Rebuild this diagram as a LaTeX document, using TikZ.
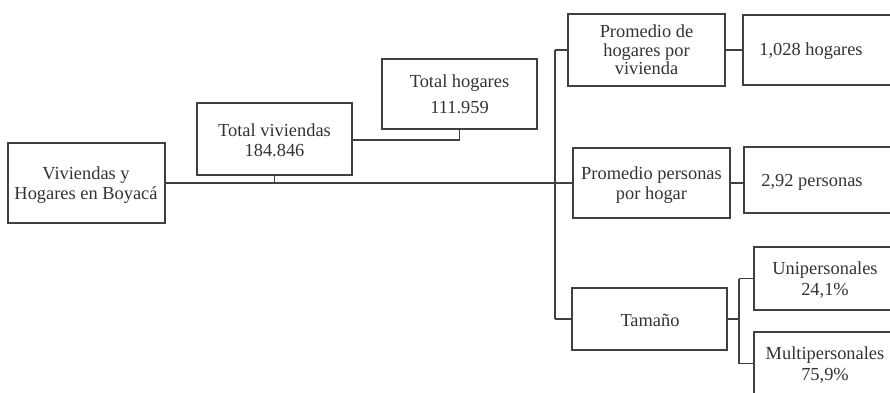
\documentclass[tikz,border=0pt]{standalone}
\usepackage{fontspec}
\setmainfont{Liberation Serif}
\begin{document}
\begin{tikzpicture}[x=1pt,y=-1pt,
  box/.style={draw=black!75,line width=1.8pt,rectangle,inner sep=0pt},
  txt/.style={text=black!80,align=center,inner sep=0pt,font=\fontsize{18.4}{20.5}\selectfont},
  link/.style={draw=black!75,line width=1.8pt}]
\useasboundingbox (0,0) rectangle (890,392);
\clip (0,0) rectangle (890,392);
% left part
\node[box,minimum width=157pt,minimum height=80pt] (root) at (86.5,183) {};
\node[txt] (roott) at (86,185) {Viviendas y\\Hogares en Boyacá};
\node[box,minimum width=155pt,minimum height=72pt] (tv) at (274.5,139) {};
\node[txt] (tvt) at (274.5,140) {Total viviendas\\184.846};
\node[box,minimum width=155pt,minimum height=70pt] (th) at (459.5,94) {};
\node[txt] (tht) at (459.5,94) {Total hogares\\[5pt]111.959};
% middle column
\node[box,minimum width=157pt,minimum height=72pt] (ph) at (646.5,50) {};
\node[txt,font=\fontsize{18.4}{18.5}\selectfont] (pht) at (646.5,50) {Promedio de\\hogares por\\vivienda};
\node[box,minimum width=157pt,minimum height=70pt] (pp) at (651.5,183) {};
\node[txt] (ppt) at (651.5,185) {Promedio personas\\por hogar};
\node[box,minimum width=155pt,minimum height=62pt] (tam) at (649.5,319) {};
\node[txt] (tamt) at (650,320) {Tamaño};
% right column (cut by the right edge)
\node[box,minimum width=180pt,minimum height=70pt,anchor=west] (h1) at (742,50) {};
\node[txt] (h1t) at (811,51) {1,028 hogares};
\node[box,minimum width=180pt,minimum height=66pt,anchor=west] (p2) at (743,180) {};
\node[txt] (p2t) at (812,182) {2,92 personas};
\node[box,minimum width=180pt,minimum height=63pt,anchor=west] (uni) at (753,278.5) {};
\node[txt] (unit) at (825,280) {Unipersonales\\24,1\%};
\node[box,minimum width=180pt,minimum height=63pt,anchor=west] (mul) at (753,363.5) {};
\node[txt] (mult) at (825,365) {Multipersonales\\75,9\%};
% connector coordinates
\coordinate (trunk) at (555,183);
\coordinate (ttop) at (555,50);
\coordinate (tbot) at (555,319);
\coordinate (brk) at (739,319);
% connectors
\draw[link] (root.east) -- (trunk);
\draw[link] (tv.south) -- (tv.south |- trunk);
\draw[link] ([yshift=-1pt]tv.east) -| (th.south);
\draw[link] (ttop) -- (tbot);
\draw[link] (ttop) -- (ph.west);
\draw[link] (trunk) -- (pp.west);
\draw[link] (tbot) -- (tam.west);
\draw[link] (ph.east) -- (ph.east -| h1.west);
\draw[link] (pp.east) -- (pp.east -| p2.west);
\draw[link] (tam.east) -- (brk);
\draw[link] (brk |- uni.west) -- (brk |- mul.west);
\draw[link] (brk |- uni.west) -- (uni.west);
\draw[link] (brk |- mul.west) -- (mul.west);
\end{tikzpicture}
\end{document}
